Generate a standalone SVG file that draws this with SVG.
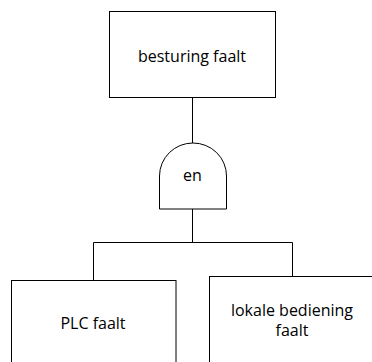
<svg xmlns="http://www.w3.org/2000/svg" width="372" height="362" viewBox="0 0 372 362">
  <style>
    .box { fill: #fff; stroke: #000; stroke-width: 1; }
    .wire { fill: none; stroke: #000; stroke-width: 1; }
    .lbl { font-family: "Open Sans", "Liberation Sans", sans-serif; font-size: 16px; fill: #000; text-anchor: middle; }
  </style>
  <rect width="372" height="362" fill="#fff"/>

  <!-- connectors of the fault tree -->
  <g id="connectors" class="wire">
    <path d="M192.5,97.5 V143"/>
    <path d="M192.5,209 V242.5"/>
    <path d="M93.5,280.5 V242.5 H292.5 V276.5"/>
  </g>

  <!-- top event -->
  <g id="top-event">
    <rect class="box" x="109.5" y="11.5" width="166" height="86"/>
    <text class="lbl" x="192" y="61.5">besturing faalt</text>
  </g>

  <!-- AND gate -->
  <g id="and-gate">
    <path class="box" d="M159.5,209 V176 A33.5,33 0 0 1 226.5,176 V209 Z"/>
    <text class="lbl" x="192.5" y="181">en</text>
  </g>

  <!-- basic events -->
  <g id="plc">
    <rect class="box" x="11.5" y="280.5" width="164.5" height="100"/>
    <text class="lbl" x="93" y="329">PLC faalt</text>
  </g>
  <g id="local-control">
    <rect class="box" x="209.5" y="276.5" width="180" height="100"/>
    <text class="lbl" x="292" y="316">lokale bediening</text>
    <text class="lbl" x="292" y="336">faalt</text>
  </g>
</svg>
